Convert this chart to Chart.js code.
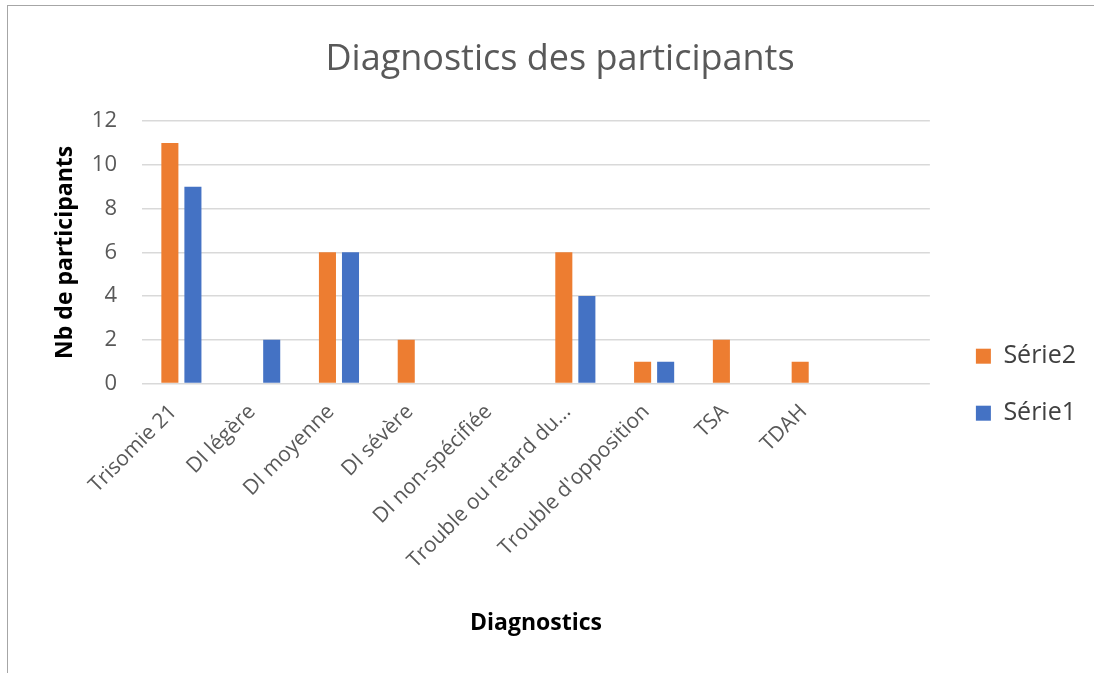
<!DOCTYPE html>
<html>
<head>
<meta charset="utf-8">
<script src="https://cdn.jsdelivr.net/npm/chart.js@4"></script>
<style>
  html, body { margin: 0; padding: 0; background: #fff; }
  #frame { position: absolute; left: 7px; top: 5px; width: 1100px; height: 680px; border: 1px solid #a6a6a6; box-sizing: border-box; }
  #wrap { position: absolute; left: 0; top: 0; width: 1094px; height: 673px; }
</style>
</head>
<body>
<div id="frame"></div>
<div id="wrap"><canvas id="mycanvas"></canvas></div>
<script>
var categories = ["Trisomie 21", "DI légère", "DI moyenne", "DI sévère", "DI non-spécifiée",
  "Trouble ou retard du...", "Trouble d'opposition", "TSA", "TDAH", ""];
var serie2 = [11, 0, 6, 2, 0, 6, 1, 2, 1, null];
var serie1 = [9, 2, 6, 0, 0, 4, 1, 0, 0, null];
var yTicks = [0, 2, 4, 6, 8, 10, 12];

var grey = "#595959";
var font = "'Open Sans', sans-serif";

var chartdata = {
  labels: categories,
  datasets: [
    {
      label: "Série2",
      backgroundColor: "#ED7D31",
      borderWidth: 0,
      categoryPercentage: 0.585,
      barPercentage: 0.74,
      data: serie2
    },
    {
      label: "Série1",
      backgroundColor: "#4472C4",
      borderWidth: 0,
      categoryPercentage: 0.585,
      barPercentage: 0.74,
      data: serie1
    }
  ]
};

// nudge the legend a little to the right, away from the plot
var legendShift = {
  id: "legendShift",
  afterLayout: function(chart) {
    chart.legend.left += 14;
    chart.legend.right += 14;
  }
};

var ctx = document.getElementById("mycanvas");
var chart = new Chart(ctx, {
  type: "bar",
  data: chartdata,
  plugins: [legendShift],
  options: {
    responsive: true,
    maintainAspectRatio: false,
    animation: false,
    layout: { padding: { left: 48, right: 22, top: 38, bottom: 32 } },
    plugins: {
      title: {
        display: true,
        text: "Diagnostics des participants",
        color: grey,
        font: { family: font, size: 36, weight: "normal" },
        padding: { top: 0, bottom: 40 }
      },
      legend: {
        position: "right",
        title: {
          display: true,
          text: " ",
          font: { size: 12 },
          padding: 38
        },
        labels: {
          color: "#404040",
          font: { family: font, size: 25 },
          boxWidth: 15,
          boxHeight: 15,
          padding: 32
        }
      },
      tooltip: { enabled: false }
    },
    scales: {
      x: {
        grid: { display: false },
        border: { display: false },
        afterFit: function(scale) {
          scale.paddingLeft = 0;
        },
        ticks: {
          color: grey,
          font: { family: font, size: 21 },
          maxRotation: 45,
          minRotation: 45,
          autoSkip: false,
          labelOffset: -8,
          padding: 8
        },
        title: {
          display: true,
          text: "Diagnostics",
          color: "#000",
          font: { family: font, size: 23, weight: "bold" },
          padding: { top: 28 }
        }
      },
      y: {
        min: 0,
        max: 12,
        afterBuildTicks: function(axis) {
          axis.ticks = yTicks.map(function(v) { return { value: v }; });
        },
        afterFit: function(scale) {
          scale.width = 94;
        },
        grid: { color: "#d9d9d9", lineWidth: 1.5, drawTicks: false },
        border: { display: false },
        ticks: {
          color: grey,
          font: { family: font, size: 22 },
          padding: 25
        },
        title: {
          display: true,
          text: "Nb de participants",
          color: "#000",
          font: { family: font, size: 23, weight: "bold" },
          padding: { top: 4, bottom: 10 }
        }
      }
    }
  }
});
</script>
</body>
</html>
